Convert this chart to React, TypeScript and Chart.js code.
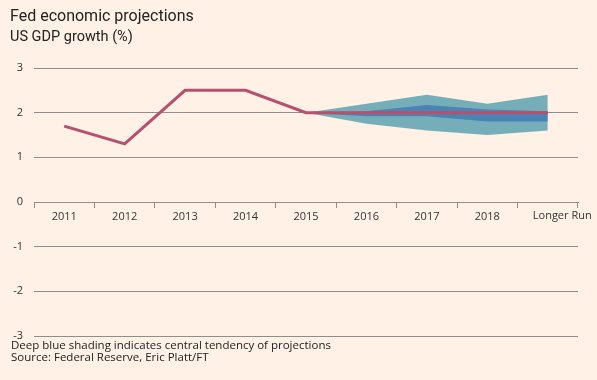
import React, { useEffect, useRef } from "react";
import { Chart, registerables } from "chart.js";

Chart.register(...registerables);

const categories = ["2011", "2012", "2013", "2014", "2015", "2016", "2017", "2018", "Longer Run"];
const gdpGrowth = [1.7, 1.3, 2.5, 2.5, 2.0, 2.0, 2.0, 2.0, 2.0];
const centralUpper = [null, null, null, null, 2.0, 2.03, 2.17, 2.07, 2.03];
const centralLower = [null, null, null, null, 2.0, 1.92, 1.92, 1.8, 1.8];
const rangeUpper = [null, null, null, null, 2.0, 2.2, 2.4, 2.2, 2.4];
const rangeLower = [null, null, null, null, 2.0, 1.75, 1.6, 1.5, 1.6];
const yTicks = [-3, -2, -1, 0, 1, 2, 3];

const BG = "#fff1e5";
const TITLE_FONT = "Roboto";
const FONT = "Open Sans";
const TEXT = "#333333";
const GRID = "#8e8e8e";

// The last category label sits left-aligned just after its tick boundary, as in the reference.
const lastLabelPlugin = {
  id: "lastLabel",
  afterDraw(chart: any) {
    const xs = chart.scales.x;
    const ys = chart.scales.y;
    const idx = categories.length - 1;
    const ctx = chart.ctx;
    ctx.save();
    ctx.font = `11px "${FONT}"`;
    ctx.fillStyle = TEXT;
    ctx.textAlign = "left";
    ctx.textBaseline = "top";
    ctx.fillText(categories[idx], xs.getPixelForValue(idx) - 15, ys.getPixelForValue(0) + 8);
    ctx.restore();
  },
};

export default function App() {
  const ref = useRef<HTMLCanvasElement | null>(null);

  useEffect(() => {
    document.body.style.margin = "0";
    document.body.style.background = BG;
    const canvas = ref.current;
    if (!canvas) return;
    const chart = new Chart(canvas, {
      type: "line",
      data: {
        labels: categories,
        datasets: [
          {
            label: "GDP growth",
            data: gdpGrowth,
            borderColor: "#b5506e",
            borderWidth: 3,
            pointRadius: 0,
            fill: false,
            tension: 0,
          },
          {
            label: "Central tendency upper",
            data: centralUpper,
            borderWidth: 0,
            borderColor: "rgba(0,0,0,0)",
            backgroundColor: "#4b83b5",
            pointRadius: 0,
            fill: "+1",
          },
          {
            label: "Central tendency lower",
            data: centralLower,
            borderWidth: 0,
            borderColor: "rgba(0,0,0,0)",
            pointRadius: 0,
            fill: false,
          },
          {
            label: "Range upper",
            data: rangeUpper,
            borderWidth: 0,
            borderColor: "rgba(0,0,0,0)",
            backgroundColor: "#75aeb8",
            pointRadius: 0,
            fill: "+1",
          },
          {
            label: "Range lower",
            data: rangeLower,
            borderWidth: 0,
            borderColor: "rgba(0,0,0,0)",
            pointRadius: 0,
            fill: false,
          },
        ],
      },
      options: {
        animation: false,
        responsive: false,
        maintainAspectRatio: false,
        layout: { padding: { left: 0, right: 19, top: 68, bottom: 44 } },
        plugins: {
          legend: { display: false },
          tooltip: { enabled: false },
          title: { display: false },
        },
        scales: {
          x: {
            type: "category",
            offset: true,
            position: { y: 0 } as any,
            afterFit: (scale: any) => {
              scale.height = 0;
            },
            grid: {
              display: true,
              offset: true,
              drawOnChartArea: false,
              drawTicks: true,
              tickLength: 5,
              color: GRID,
            },
            border: { display: true, color: GRID },
            ticks: {
              color: TEXT,
              font: { family: FONT, size: 11 },
              padding: 3,
              maxRotation: 0,
              autoSkip: false,
              callback: (_v: any, i: number) => (i === categories.length - 1 ? "" : categories[i]),
            },
          },
          y: {
            min: -3,
            max: 3,
            afterFit: (scale: any) => {
              scale.width = 34;
            },
            afterBuildTicks: (scale: any) => {
              scale.ticks = yTicks.map((v) => ({ value: v }));
            },
            grid: {
              color: GRID,
              drawTicks: false,
              lineWidth: 1,
            },
            border: { display: false },
            ticks: {
              color: TEXT,
              font: { family: FONT, size: 11 },
              padding: 11,
            },
          },
        },
      },
      plugins: [lastLabelPlugin],
    });
    return () => chart.destroy();
  }, []);

  return (
    <div
      style={{
        position: "absolute",
        left: 0,
        top: 0,
        width: 597,
        height: 380,
        background: BG,
        fontFamily: TITLE_FONT,
        color: TEXT,
        overflow: "hidden",
      }}
    >
      <canvas ref={ref} width={597} height={380} style={{ position: "absolute", left: 0, top: 0 }} />
      <div style={{ position: "absolute", left: 10, top: 7, fontSize: 16, lineHeight: "18px", color: "#222" }}>
        Fed economic projections
      </div>
      <div style={{ position: "absolute", left: 10, top: 29, fontSize: 14.5, lineHeight: "16px", color: "#222" }}>
        US GDP growth (%)
      </div>
      <div
        style={{
          position: "absolute",
          left: 11,
          top: 339,
          fontFamily: FONT,
          fontSize: 11.5,
          lineHeight: "11.5px",
          color: "#222",
        }}
      >
        <div>Deep blue shading indicates central tendency of projections</div>
        <div>Source: Federal Reserve, Eric Platt/FT</div>
      </div>
    </div>
  );
}
